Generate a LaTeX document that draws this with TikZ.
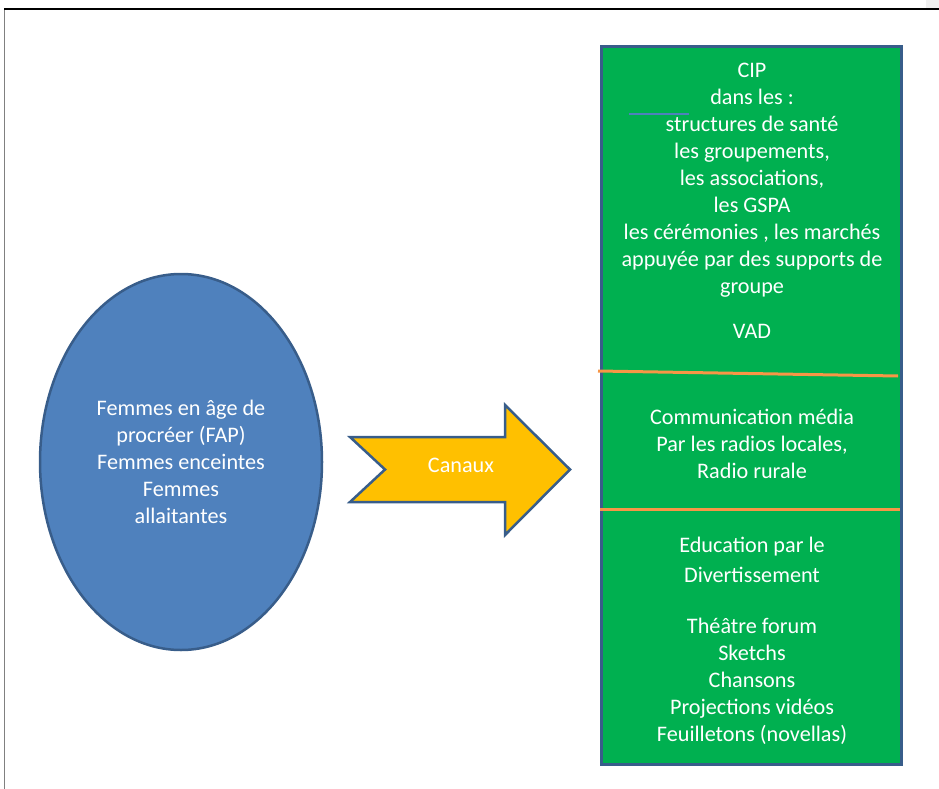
\documentclass[tikz,border=0pt]{standalone}
\usepackage{fontspec}
\setmainfont{Carlito}
\usetikzlibrary{positioning, shapes.geometric}
\definecolor{ovalblue}{HTML}{4F81BD}
\definecolor{edgeblue}{HTML}{385D8A}
\definecolor{canalgold}{HTML}{FFC000}
\definecolor{boxgreen}{HTML}{00B050}
\definecolor{splitorange}{HTML}{F79646}
\tikzstyle{words} = [align=center, text=white, inner sep=0pt, font=\fontsize{22.2}{27}\selectfont]
\tikzstyle{target} = [draw=edgeblue, line width=2.5pt, fill=ovalblue, ellipse, minimum width=282pt, minimum height=376pt, inner sep=0pt]
\tikzstyle{channels} = [draw=edgeblue, line width=3pt, fill=boxgreen, rectangle, minimum width=300pt, minimum height=718pt, inner sep=0pt]
\tikzstyle{pointer} = [draw=edgeblue, line width=2.5pt, fill=canalgold, line join=miter]
\tikzstyle{divider} = [draw=splitorange, line width=3pt]

\begin{document}
\begin{tikzpicture}[x=1pt, y=-1pt]
    \useasboundingbox (0,0) rectangle (939,789);

    % Page frame.
    \fill [black!6] (926,0) rectangle (939,8);
    \draw [gray, line width=1pt] (4,9) -- (4,789);
    \draw [black, line width=1.3pt] (4,9) -- (939,9);

    % Audience.
    \node (women) [target] at (181,462) {};
    \node (womentext) [words] at (women.center) {Femmes en âge de\\procréer (FAP)\\Femmes enceintes\\Femmes\\allaitantes};

    % Channel arrow.
    \draw [pointer] (350,437) -- (505,437) -- (505,405) -- (570,469.5) -- (505,535)
        -- (505,502) -- (350,502) -- (385,469.5) -- cycle;
    \node (canaux) [words] at (461,465) {Canaux};

    % Channels box.
    \node (box) [channels] at (751.5,405.5) {};

    \coordinate (cut1l) at (598,371);
    \coordinate (cut1r) at (898,376);
    \coordinate (cut2l) at (600,509.5);
    \coordinate (cut2r) at (900,509.5);
    \draw [divider] (cut1l) -- (cut1r);
    \draw [divider] (cut2l) -- (cut2r);

    \coordinate (tickl) at (629,114);
    \coordinate (tickr) at (689,114);
    \draw [ovalblue, line width=1.2pt] (tickl) -- (tickr);

    \node (cip) [words] at (752,201) {CIP\\dans les :\\structures de santé\\les groupements,\\les associations,\\les GSPA\\les cérémonies , les marchés\\appuyée par des supports de\\groupe\\[18pt]VAD};
    \node (media) [words] at (752,444) {Communication média\\Par les radios locales,\\Radio rurale};
    \node (edu) [words] at (752,641) {Education par le\\[3pt]Divertissement\\[24pt]Théâtre forum\\Sketchs\\Chansons\\Projections vidéos\\Feuilletons (novellas)};
\end{tikzpicture}
\end{document}
